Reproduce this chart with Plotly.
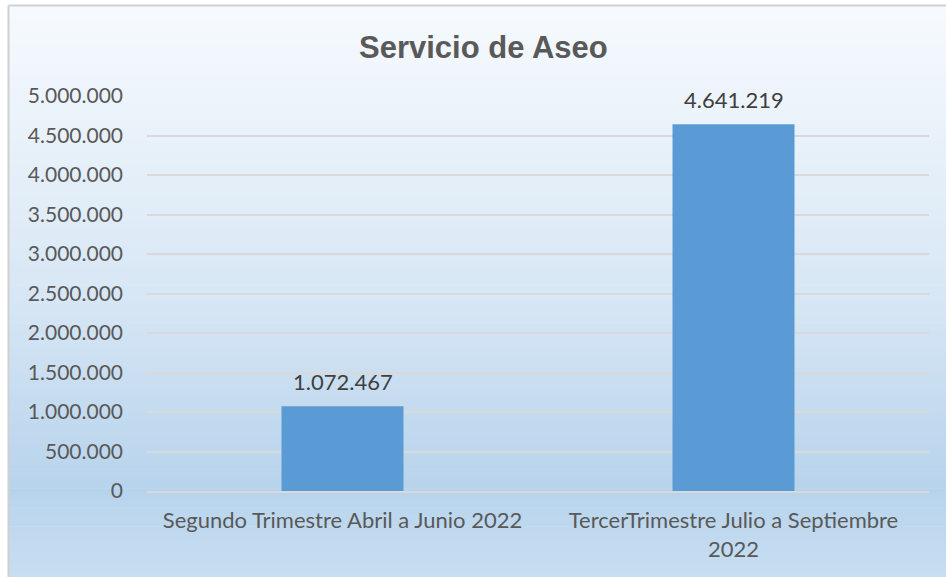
import plotly.graph_objects as go

categories = ["Segundo Trimestre Abril a Junio 2022",
              "TercerTrimestre Julio a Septiembre<br>2022"]
values = [1072467, 4641219]
title_text = "Servicio de Aseo"
y_ticks = list(range(0, 5000001, 500000))

W, H = 946, 577
L, R, T, B = 147, 17, 96, 86
pw, ph = W - L - R, H - T - B

def px_x(x):
    return (x - L) / pw

def px_y(y):
    return 1 - (y - T) / ph

def fmt(v):
    return f"{v:,}".replace(",", ".")

fig = go.Figure()
fig.add_trace(go.Bar(
    x=categories, y=values,
    marker=dict(color="#5B9BD5", line=dict(width=0)),
    hoverinfo="x+y",
))

shapes = []
# background gradient
stops = [(0.0, (246, 250, 254)), (0.5, (216, 231, 245)), (0.85, (183, 211, 236)), (1.0, (199, 222, 241))]
N = 90
top, bot = 6, H
for i in range(N):
    f = i / (N - 1)
    for j in range(len(stops) - 1):
        if stops[j][0] <= f <= stops[j + 1][0]:
            a, ca = stops[j]
            b, cb = stops[j + 1]
            t = (f - a) / (b - a)
            c = tuple(round(ca[k] + (cb[k] - ca[k]) * t) for k in range(3))
            break
    y0 = top + (bot - top) * i / N
    y1 = top + (bot - top) * (i + 1) / N + 0.6
    shapes.append(dict(type="rect", xref="paper", yref="paper", layer="below",
                       x0=px_x(9), x1=px_x(W + 2), y0=px_y(y1), y1=px_y(y0),
                       fillcolor=f"rgb{c}", line=dict(width=0)))
# border
shapes.append(dict(type="line", xref="paper", yref="paper", layer="above",
                   x0=px_x(8.5), x1=px_x(8.5), y0=px_y(5.5), y1=px_y(H + 2),
                   line=dict(color="#d0d0d0", width=2)))
shapes.append(dict(type="line", xref="paper", yref="paper", layer="above",
                   x0=px_x(8.5), x1=px_x(W + 2), y0=px_y(5.5), y1=px_y(5.5),
                   line=dict(color="#d0d0d0", width=2)))

annotations = []
for c, v in zip(categories, values):
    annotations.append(dict(x=c, y=v, xref="x", yref="y", text=fmt(v),
                            showarrow=False, yanchor="bottom", yshift=9,
                            font=dict(family="Lato", size=22, color="#404040")))
annotations.append(dict(x=px_x(483), y=px_y(47), xref="paper", yref="paper",
                        text=f"<b>{title_text}</b>", showarrow=False,
                        xanchor="center", yanchor="middle",
                        font=dict(family="Liberation Sans, Arial, sans-serif",
                                  size=31, color="#595959")))

fig.update_layout(
    width=W, height=H,
    margin=dict(l=L, r=R, t=T, b=B, pad=0),
    paper_bgcolor="white",
    plot_bgcolor="rgba(0,0,0,0)",
    separators=",.",
    bargap=1 - 122 / 391,
    showlegend=False,
    shapes=shapes,
    annotations=annotations,
    font=dict(family="Lato", size=21, color="#595959"),
)
fig.update_yaxes(
    range=[0, 5000000], tickvals=y_ticks, tickformat=",d",
    showgrid=True, gridcolor="#d9d9d9", gridwidth=1.5,
    zeroline=False, showline=False, ticks="", ticklabelstandoff=23,
    tickfont=dict(family="Lato", size=21, color="#595959"),
)
fig.update_xaxes(
    showgrid=False, showline=True, linecolor="#d9d9d9", linewidth=1.5,
    ticks="", ticklabelstandoff=9,
    tickfont=dict(family="Lato", size=22, color="#595959"),
)
fig.write_html("out.html",
               config={"displayModeBar": False},
               post_script="document.body.style.margin='0';document.body.style.overflow='hidden';")
